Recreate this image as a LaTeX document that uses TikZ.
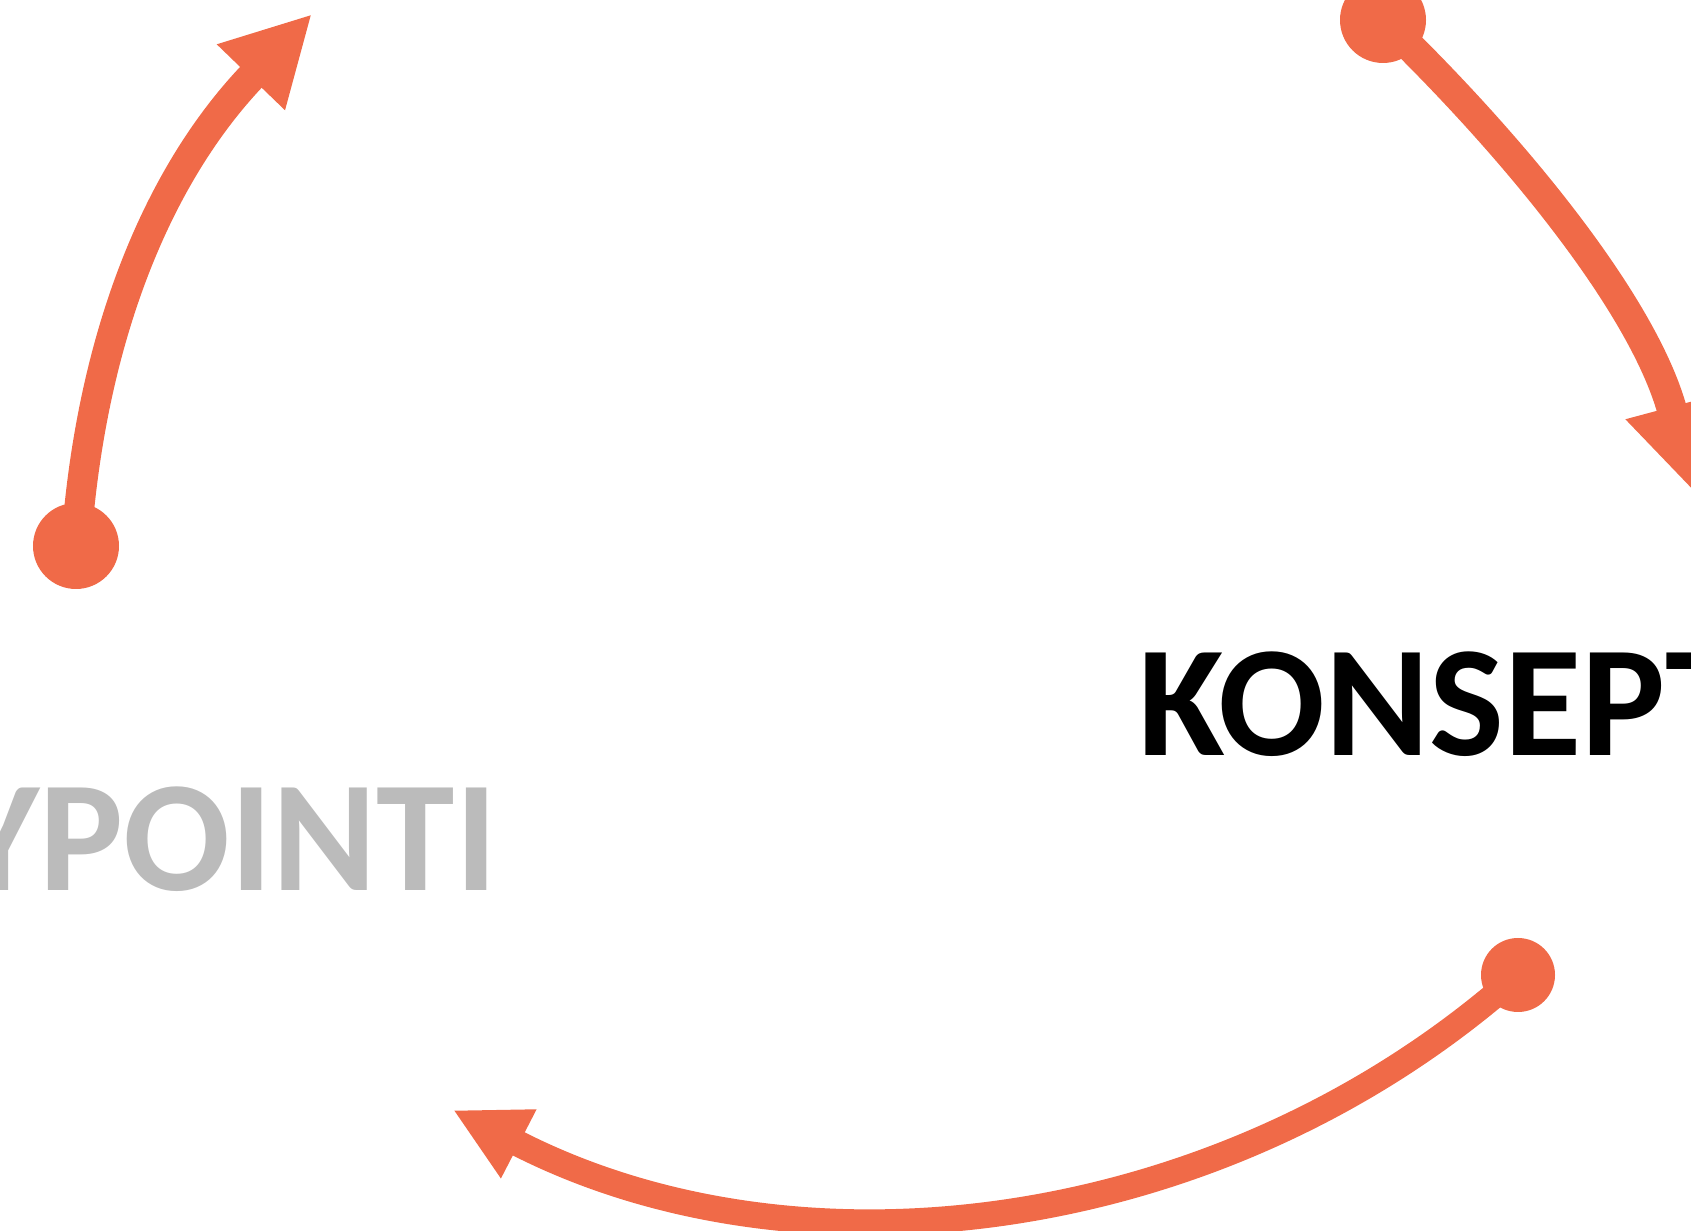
\documentclass[tikz,border=0pt]{standalone}
\usepackage{fontspec}
\newfontfamily\phasefont{Carlito}
\usetikzlibrary{arrows.meta}
\definecolor{cycleorange}{RGB}{240,106,72}
\definecolor{fadedgray}{RGB}{187,187,187}

\begin{document}
\begin{tikzpicture}[
    % Styles
    enddot/.style={circle, fill=cycleorange, inner sep=0pt, minimum size=0.86cm},
    cycle-arrow/.style={-{Triangle[length=0.88cm, width=0.88cm]}, line width=0.3cm, cycleorange},
    phase/.style={font=\phasefont\bfseries\fontsize{45}{50}\selectfont, inner sep=0pt},
]
\useasboundingbox (0,-12.31) rectangle (16.91,0);

% Phase labels
\node[phase, anchor=base west] (konsept) at (11.38,-7.56) {KONSEPT};
\node[phase, text=fadedgray, anchor=base east] (prototyypointi) at (4.98,-8.91) {YPOINTI};

% LEFT arrow
\node[enddot] (startl) at (0.76,-5.46) {};
\coordinate (tipl) at (3.12,-0.14);
\draw[cycle-arrow] (startl.center) to[out=86, in=226, looseness=0.95] (tipl);

% TOP RIGHT arrow
\node[enddot] (startr) at (13.83,-0.20) {};
\coordinate (tipr) at (16.94,-4.92);
\draw[cycle-arrow] (startr.center) to[out=-44, in=105, looseness=0.86] (tipr);

% BOTTOM arrow
\node[enddot, minimum size=0.74cm] (startb) at (15.18,-9.75) {};
\coordinate (tipb) at (4.53,-11.10);
\draw[cycle-arrow, line width=0.26cm, -{Triangle[length=0.74cm, width=0.72cm]}]
    (startb.center) to[bend left=34.5, looseness=0.93] (tipb);

\end{tikzpicture}
\end{document}
